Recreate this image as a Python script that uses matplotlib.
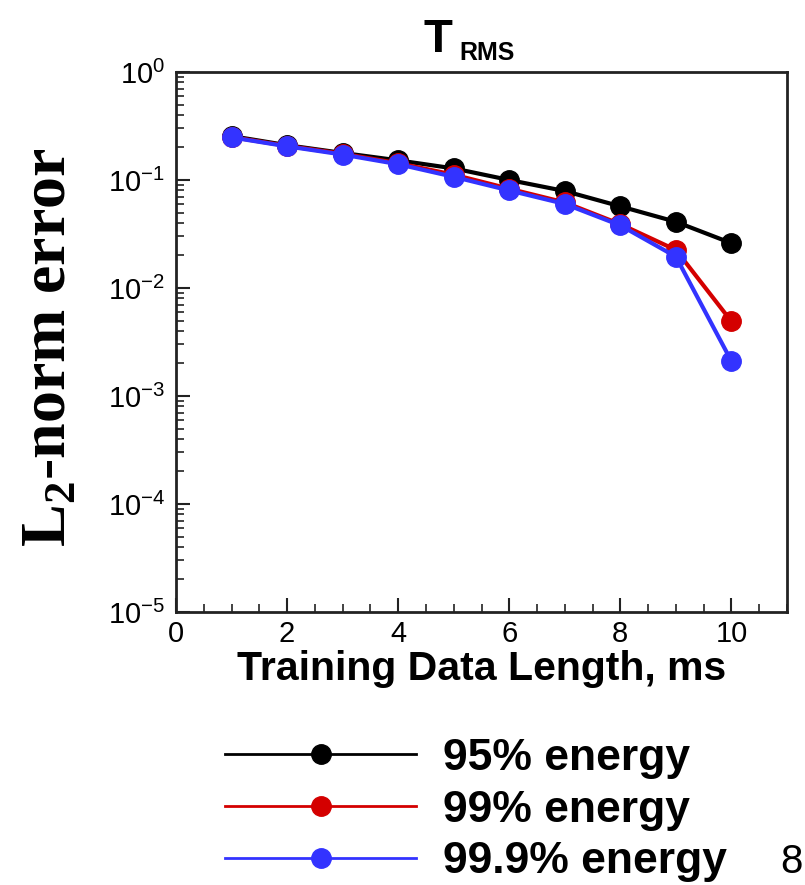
import numpy as np
import matplotlib.pyplot as plt
from matplotlib.ticker import MultipleLocator, LogLocator, NullFormatter

# Data
length_ms = [1, 2, 3, 4, 5, 6, 7, 8, 9, 10]
err_95 = [0.255, 0.21, 0.178, 0.152, 0.128, 0.100, 0.079, 0.057, 0.041, 0.026]
err_99 = [0.250, 0.207, 0.175, 0.143, 0.112, 0.083, 0.062, 0.039, 0.0225, 0.0049]
err_999 = [0.248, 0.205, 0.172, 0.140, 0.107, 0.080, 0.060, 0.038, 0.0195, 0.0021]
labels = ['95% energy', '99% energy', '99.9% energy']
colors = ['#000000', '#d40000', '#3333ff']


def main():
    plt.rcParams['font.family'] = ['Liberation Sans', 'DejaVu Sans']
    plt.rcParams['axes.linewidth'] = 2.0

    W, H = 805, 885
    fig = plt.figure(figsize=(W / 100, H / 100), dpi=100)
    ax = fig.add_axes([176 / W, 1 - 612 / H, (787 - 176) / W, (612 - 72) / H])

    for y, c, lab in zip([err_95, err_99, err_999], colors, labels):
        ax.plot(length_ms, y, color=c, lw=3, marker='o', ms=14, mec=c, mfc=c, label=lab)

    ax.set_yscale('log')
    ax.set_xlim(0, 11)
    ax.set_ylim(1e-5, 1e0)
    ax.xaxis.set_major_locator(MultipleLocator(2))
    ax.xaxis.set_minor_locator(MultipleLocator(0.5))
    ax.yaxis.set_major_locator(LogLocator(base=10, numticks=10))
    ax.yaxis.set_minor_locator(LogLocator(base=10, subs=np.arange(2, 10), numticks=10))
    ax.yaxis.set_minor_formatter(NullFormatter())

    ax.tick_params(which='both', direction='in', top=False, right=False, color='#222222')
    ax.tick_params(which='major', length=10, width=1.5, labelsize=21)
    ax.tick_params(which='minor', length=6, width=1.2)
    ax.tick_params(axis='x', which='major', pad=6)
    ax.tick_params(axis='y', which='major', pad=8)
    for s in ax.spines.values():
        s.set_color('#222222')

    ax.set_xlabel('Training Data Length, ms', fontsize=29.5, fontweight='bold', labelpad=1)

    # title: big T with small RMS subscript
    fig.text(452 / W, 1 - 52 / H, 'T', fontsize=34, fontweight='bold', ha='right', va='baseline')
    fig.text(459 / W, 1 - 60 / H, 'RMS', fontsize=18, fontweight='bold', ha='left', va='baseline')

    fig.text(50 / W, 1 - 347 / H, r'L$_\mathdefault{2}$-norm error', rotation=90,
             ha='center', va='center', family='Liberation Serif', fontweight='bold', fontsize=46)

    leg = fig.legend(loc='upper left', bbox_to_anchor=(225 / W, 1 - 738 / H), frameon=False,
                     prop={'weight': 'bold', 'size': 32}, borderpad=0, borderaxespad=0,
                     handlelength=4.3, handletextpad=0.6, labelspacing=0.24)
    for ln in leg.get_lines():
        ln.set_linewidth(2)

    fig.text(803 / W, 1 - 862 / H, '8', fontsize=29, ha='right', va='center')

    fig.savefig('out.png', dpi=100)


if __name__ == '__main__':
    main()
